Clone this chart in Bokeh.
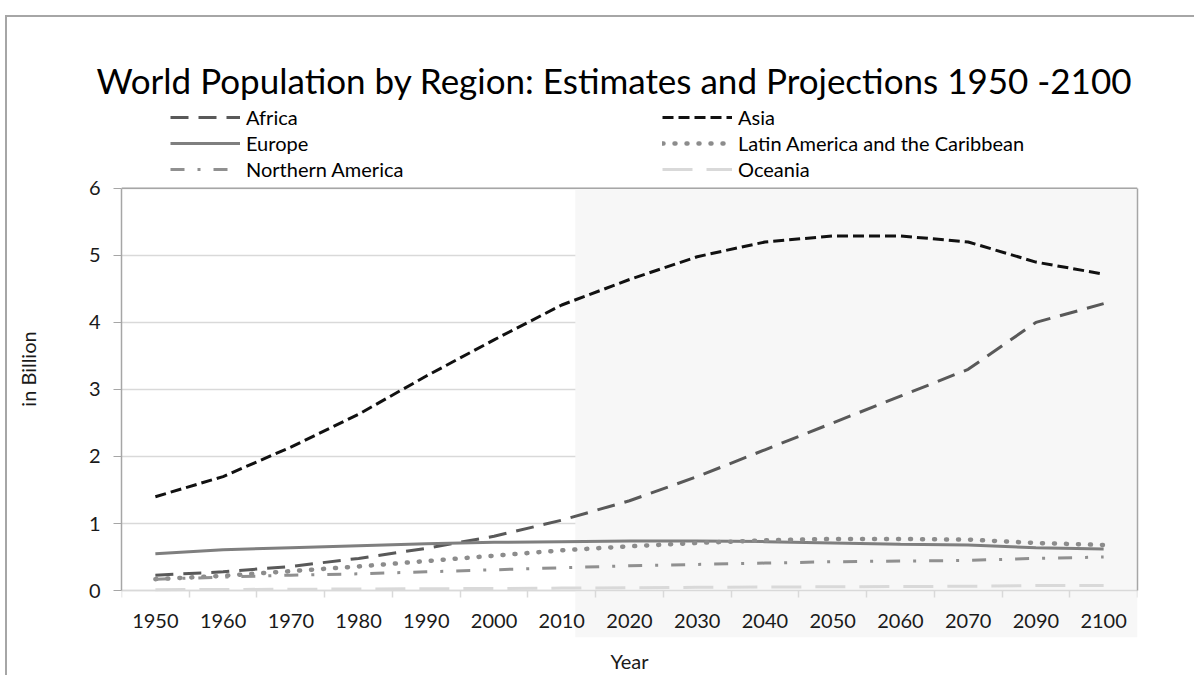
from bokeh.plotting import figure
from bokeh.models import (ColumnDataSource, FixedTicker, CustomJSTickFormatter, Legend,
                          LegendItem, BoxAnnotation, Range1d, LinearAxis, Span)
from bokeh.embed import file_html
from bokeh.resources import INLINE

years = ["1950", "1960", "1970", "1980", "1990", "2000", "2010", "2020",
         "2030", "2040", "2050", "2060", "2070", "2090", "2100"]
africa = [0.23, 0.28, 0.36, 0.48, 0.63, 0.81, 1.05, 1.34, 1.70, 2.10, 2.50, 2.90, 3.30, 4.00, 4.28]
asia = [1.40, 1.70, 2.14, 2.63, 3.20, 3.74, 4.26, 4.64, 4.98, 5.20, 5.29, 5.29, 5.20, 4.90, 4.72]
europe = [0.55, 0.61, 0.64, 0.67, 0.70, 0.72, 0.73, 0.74, 0.74, 0.73, 0.71, 0.69, 0.68, 0.64, 0.62]
latin = [0.17, 0.22, 0.29, 0.36, 0.44, 0.52, 0.60, 0.66, 0.71, 0.75, 0.77, 0.77, 0.76, 0.71, 0.68]
north_am = [0.17, 0.20, 0.23, 0.25, 0.28, 0.31, 0.34, 0.37, 0.39, 0.41, 0.43, 0.44, 0.45, 0.48, 0.50]
oceania = [0.013, 0.016, 0.020, 0.023, 0.027, 0.031, 0.037, 0.043, 0.048, 0.052, 0.057, 0.060, 0.064, 0.075, 0.075]
y_ticks = [0, 1, 2, 3, 4, 5, 6]

FONT = "Lato"
YMAX = 6
x = [i + 0.5 for i in range(len(years))]
src = ColumnDataSource(dict(x=x, africa=africa, asia=asia, europe=europe, latin=latin,
                            north_am=north_am, oceania=oceania))

# the frame extends above the value area (room for the legend) and below it
# (room for the shaded projection band under the year labels)
p = figure(width=1189, height=660, output_backend="svg", toolbar_location=None,
           x_range=Range1d(0, len(years)), y_range=Range1d(-0.70, 7.31),
           min_border_left=114, min_border_right=59, min_border_top=83, min_border_bottom=40,
           background_fill_color="white", border_fill_color="white")
p.outline_line_color = None
p.styles = {"margin-top": "15px", "margin-left": "5px",
            "border-top": "2px solid #a6a6a6", "border-left": "2px solid #a6a6a6"}

shade = BoxAnnotation(left=6.7, top=YMAX, fill_color="#f7f7f7",
                      fill_alpha=1, line_color=None, level="underlay")
p.add_layout(shade)

p.xgrid.visible = False
p.ygrid.grid_line_color = "#d9d9d9"
p.ygrid.grid_line_width = 1.5

top_edge = Span(location=YMAX, dimension="width", line_color="#a6a6a6", line_width=1.5)
p.add_layout(top_edge)

# Title
p.title.text = "World Population by Region: Estimates and Projections 1950 -2100"
p.title.text_font = FONT
p.title.text_font_size = "35px"
p.title.text_font_style = "normal"
p.title.text_color = "#000000"
p.title.align = "left"
p.title.offset = -25
p.title.standoff = 0

# Lines
r_af = p.line("x", "africa", source=src, line_width=3, line_color="#595959", line_dash="18 10")
r_as = p.line("x", "asia", source=src, line_width=3, line_color="#111111", line_dash="11 5")
r_eu = p.line("x", "europe", source=src, line_width=3, line_color="#7f7f7f")
r_la = p.line("x", "latin", source=src, line_width=4.5, line_color="#8c8c8c", line_dash="1 11",
              line_cap="round")
r_na = p.line("x", "north_am", source=src, line_width=3, line_color="#909090",
              line_dash="14 13 3 13")
r_oc = p.line("x", "oceania", source=src, line_width=3, line_color="#d9d9d9", line_dash="30 14")

# Axes
yax = p.yaxis[0]
yax.bounds = (0, YMAX)
yax.ticker = FixedTicker(ticks=y_ticks)
yax.major_tick_out = 8
yax.major_tick_in = 0
yax.minor_tick_line_color = None
yax.axis_line_color = "#a6a6a6"
yax.axis_line_width = 1.5
yax.major_tick_line_color = "#a6a6a6"
yax.major_label_text_font = FONT
yax.major_label_text_font_size = "20px"
yax.major_label_text_color = "#1a1a1a"
yax.major_label_standoff = 13
yax.axis_label = "in Billion"
yax.axis_label_text_font = FONT
yax.axis_label_text_font_size = "20px"
yax.axis_label_text_font_style = "normal"
yax.axis_label_text_color = "#1a1a1a"
yax.axis_label_standoff = 46

right_ax = LinearAxis(bounds=(0, YMAX), ticker=FixedTicker(ticks=[]),
                      axis_line_color="#a6a6a6", axis_line_width=1.5,
                      major_tick_line_color=None, minor_tick_line_color=None,
                      major_label_text_font_size="0px")
p.add_layout(right_ax, "right")

# category axis sits at value 0 inside the frame
xax = p.xaxis[0]
xax.fixed_location = 0
xax.ticker = FixedTicker(ticks=x, minor_ticks=list(range(len(years) + 1)))
xax.formatter = CustomJSTickFormatter(args=dict(labels=years),
                                      code="return labels[Math.round(tick - 0.5)];")
xax.major_tick_out = 0
xax.major_tick_in = 0
xax.major_tick_line_color = None
xax.minor_tick_out = 7
xax.minor_tick_in = 0
xax.minor_tick_line_color = "#d9d9d9"
xax.minor_tick_line_width = 1.5
xax.axis_line_color = "#d9d9d9"
xax.axis_line_width = 1.5
xax.major_label_text_font = FONT
xax.major_label_text_font_size = "20px"
xax.major_label_text_color = "#1a1a1a"
xax.major_label_standoff = 16

# axis title "Year" below the frame
year_ax = LinearAxis(ticker=FixedTicker(ticks=[]), axis_line_color=None,
                     major_tick_line_color=None, minor_tick_line_color=None,
                     major_label_text_font_size="0px",
                     axis_label="Year", axis_label_text_font=FONT,
                     axis_label_text_font_size="20px", axis_label_text_font_style="normal",
                     axis_label_text_color="#1a1a1a", axis_label_standoff=11)
p.add_layout(year_ax, "below")

# Legend
items = [
    LegendItem(label="Africa", renderers=[r_af]),
    LegendItem(label="Asia", renderers=[r_as]),
    LegendItem(label="Europe", renderers=[r_eu]),
    LegendItem(label="Latin America and the Caribbean", renderers=[r_la]),
    LegendItem(label="Northern America", renderers=[r_na]),
    LegendItem(label="Oceania", renderers=[r_oc]),
]
legend = Legend(items=items, orientation="horizontal", ncols=2, location=(49, 456),
                padding=0, margin=0, spacing=2, glyph_width=70, glyph_height=20,
                label_standoff=6, label_width=414, label_height=20,
                border_line_color=None, background_fill_alpha=0,
                label_text_font=FONT, label_text_font_size="20px", label_text_color="#000000")
p.add_layout(legend, "center")

open("out.html", "w").write(file_html(p, INLINE))
